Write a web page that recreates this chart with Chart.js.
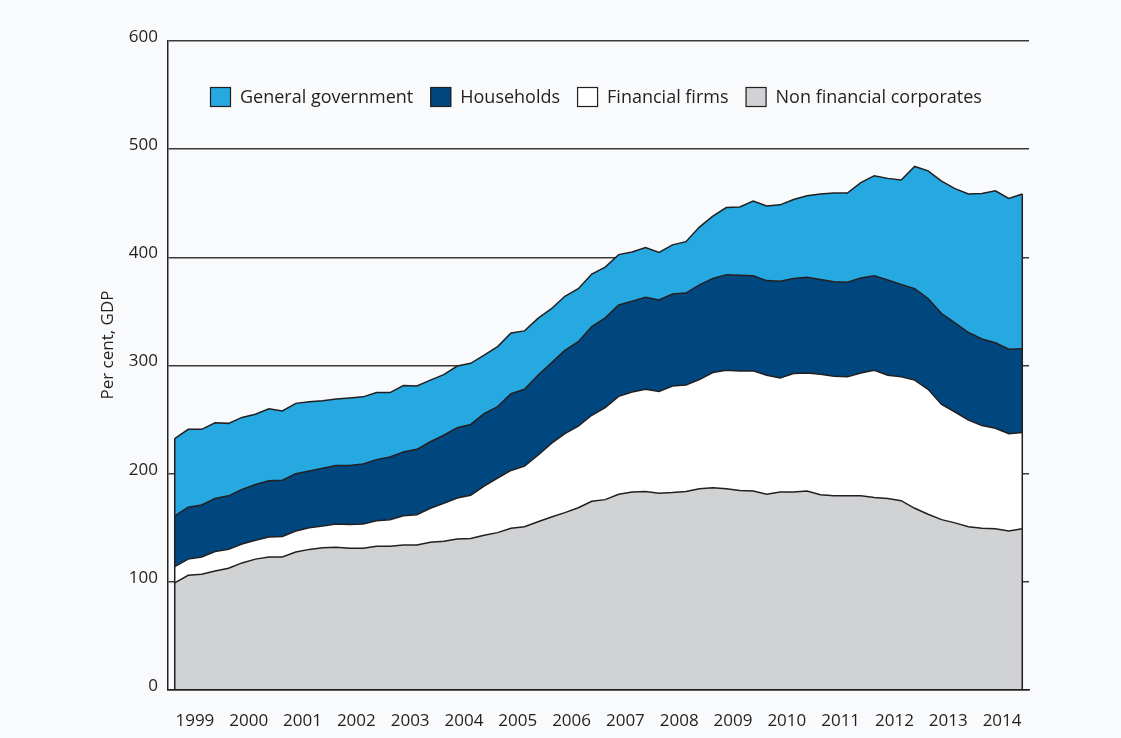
<!DOCTYPE html>
<html>
<head>
<meta charset="utf-8">
<script src="https://cdn.jsdelivr.net/npm/chart.js@4/dist/chart.umd.min.js"></script>
<style>
  html, body { margin: 0; padding: 0; background: #f9fafc; }
  #wrap { position: relative; width: 1121px; height: 738px; }
</style>
</head>
<body>
<div id="wrap"><canvas id="debtChart"></canvas></div>
<script>
// quarterly data, 1999 Q1 - 2014 Q4, per cent of GDP
var years = ['1999', '2000', '2001', '2002', '2003', '2004', '2005', '2006',
             '2007', '2008', '2009', '2010', '2011', '2012', '2013', '2014'];
var yTitle = 'Per cent, GDP'

var nonFinancialCorporates = [
    99, 106, 107, 110, 112.5, 117.5, 121, 123, 123, 127.5,
    130, 131.5, 132, 131, 131, 133, 133, 134, 134, 136.5,
    137.5, 139.5, 140, 143, 145.5, 149.5, 151, 155.5, 160, 164,
    168.5, 174.5, 176, 181, 183, 183.5, 182, 182.5, 183.5, 186,
    187, 186, 184.5, 184, 181, 183, 183, 184, 180.5, 179.5,
    179.5, 179.5, 178, 177, 175, 168, 162.5, 157.5, 154.5, 151,
    149.5, 149, 147, 149
]
var financialFirms = [
    15, 15, 16, 18, 17.5, 17.5, 17.5, 18.5, 19, 19.5,
    20, 20, 21.5, 22, 22.5, 23.5, 24.5, 27, 28, 31.5,
    35, 38, 40, 45.5, 50.5, 53.5, 56, 61.5, 68, 73,
    75.5, 79.5, 85, 90.5, 92.5, 94.5, 94, 98.5, 98.5, 101,
    106.5, 109.5, 110.5, 111, 110, 105.5, 109.5, 109, 111.5, 110.5,
    110, 113.5, 117.5, 114, 114.5, 118.5, 115.5, 106.5, 102.5, 98.5,
    95, 93, 90, 89
]
var households = [
    47, 48, 48, 49, 49.5, 50.5, 51.5, 52, 52, 53,
    52.5, 53.5, 54, 54.5, 55.5, 56.5, 58, 59, 60.5, 61.5,
    63, 65, 65.5, 67, 66, 71, 71, 74, 74.5, 77,
    78, 82, 83, 84.5, 84, 85, 84.5, 85, 85, 87.5,
    87, 88.5, 88.5, 88, 87.5, 89.5, 88, 88.5, 87.5, 87.5,
    87.5, 88, 87.5, 88, 85.5, 84.5, 84, 84, 82.5, 81,
    80, 79, 78, 77.5
]
var generalGovernment = [
    71.5, 72, 70, 70, 67, 66.5, 65, 66.5, 64, 65,
    64, 62.5, 61.5, 62.5, 62, 62, 59.5, 61.5, 58.5, 57,
    56, 57, 56.5, 54, 55.5, 56, 54, 52.5, 50, 50,
    49, 48.5, 47, 46.5, 45.5, 46, 44, 45.5, 47.5, 53.5,
    57.5, 62, 63, 69, 69, 70.5, 73, 75.5, 79, 82,
    82.5, 88, 92.5, 94, 96.5, 113, 118, 122.5, 124, 128,
    134.5, 140.5, 139.5, 143
]

var quarters = []
years.forEach(function (y) {
    ['Q1', 'Q2', 'Q3', 'Q4'].forEach(function (q) { quarters.push(y + ' ' + q) })
})

var inkColor = '#231f20'
var fontFamily = '"Open Sans", "Noto Sans", sans-serif'

// legend drawn inside the plot area, in reverse stacking order
var insideLegend = {
    id: 'insideLegend',
    afterDraw: function (chart) {
        var ctx = chart.ctx
        var x = chart.chartArea.left + 42
        var y = chart.chartArea.top + 56
        ctx.save()
        ctx.font = '18px ' + fontFamily
        ctx.textBaseline = 'middle'
        for (var i = chart.data.datasets.length - 1; i >= 0; i--) {
            var ds = chart.data.datasets[i]
            ctx.fillStyle = ds.backgroundColor
            ctx.fillRect(x, y - 10, 21, 20)
            ctx.strokeStyle = inkColor
            ctx.lineWidth = 1.2
            ctx.strokeRect(x + 0.5, y - 9.5, 20, 19)
            ctx.fillStyle = inkColor
            ctx.fillText(ds.label, x + 30, y + 1)
            x += 30 + ctx.measureText(ds.label).width + 17
        }
        ctx.restore()
    }
}

// y axis title, sitting a little above the middle of the axis
var axisTitle = {
    id: 'axisTitle',
    afterDraw: function (chart) {
        var ctx = chart.ctx
        ctx.save()
        ctx.translate(chart.chartArea.left - 60, chart.chartArea.top + 304)
        ctx.rotate(-Math.PI / 2)
        ctx.font = '17px ' + fontFamily
        ctx.fillStyle = inkColor
        ctx.textAlign = 'center'
        ctx.textBaseline = 'middle'
        ctx.fillText(yTitle, 0, 0)
        ctx.restore()
    }
}

// close the stacked area on its left and right edges
var areaEdges = {
    id: 'areaEdges',
    afterDatasetsDraw: function (chart) {
        var ctx = chart.ctx
        var meta = chart.getDatasetMeta(chart.data.datasets.length - 1)
        var pts = meta.data
        var bottom = chart.scales.y.getPixelForValue(0)
        ctx.save()
        ctx.strokeStyle = inkColor
        ctx.lineWidth = 1.5
        ctx.beginPath()
        ctx.moveTo(pts[0].x, pts[0].y)
        ctx.lineTo(pts[0].x, bottom)
        ctx.moveTo(pts[pts.length - 1].x, pts[pts.length - 1].y)
        ctx.lineTo(pts[pts.length - 1].x, bottom)
        ctx.stroke()
        ctx.restore()
    }
}

function areaSet(label, data, color, fill) {
    return {
        label: label,
        data: data,
        backgroundColor: color,
        borderColor: inkColor,
        borderWidth: 1.5,
        pointRadius: 0,
        tension: 0,
        fill: fill
    }
}

var ctx = document.getElementById('debtChart').getContext('2d')
new Chart(ctx, {
    type: 'line',
    data: {
        labels: quarters,
        datasets: [
            areaSet('Non financial corporates', nonFinancialCorporates, '#d1d2d4', 'origin'),
            areaSet('Financial firms', financialFirms, '#ffffff', '-1'),
            areaSet('Households', households, '#00467f', '-1'),
            areaSet('General government', generalGovernment, '#25a9e0', '-1')
        ]
    },
    options: {
        responsive: true,
        maintainAspectRatio: false,
        animation: false,
        layout: { padding: { top: 41, right: 92, left: 0, bottom: 0 } },
        plugins: {
            legend: { display: false },
            tooltip: { enabled: false }
        },
        scales: {
            x: {
                type: 'category',
                offset: true,
                grid: { display: false, drawTicks: false },
                border: { display: true, color: inkColor, width: 1.5, z: 1 },
                ticks: {
                    autoSkip: false,
                    maxRotation: 0,
                    labelOffset: 6.7,
                    padding: 21,
                    color: inkColor,
                    font: { family: fontFamily, size: 17 },
                    callback: function (value) {
                        var q = this.getLabelForValue(value)
                        return q.slice(-2) === 'Q2' ? q.slice(0, 4) : ''
                    }
                },
                afterFit: function (scale) { scale.height = 48 }
            },
            y: {
                stacked: true,
                min: 0,
                max: 600,
                grid: { color: '#3a3a3a', lineWidth: 1.4, drawTicks: false },
                border: { display: true, color: inkColor, width: 1.5 },
                ticks: {
                    stepSize: 100,
                    padding: 10,
                    labelOffset: -4,
                    color: inkColor,
                    font: { family: fontFamily, size: 17 }
                },
                afterFit: function (scale) { scale.width = 168 }
            }
        }
    },
    plugins: [insideLegend, axisTitle, areaEdges]
})
</script>
</body>
</html>
